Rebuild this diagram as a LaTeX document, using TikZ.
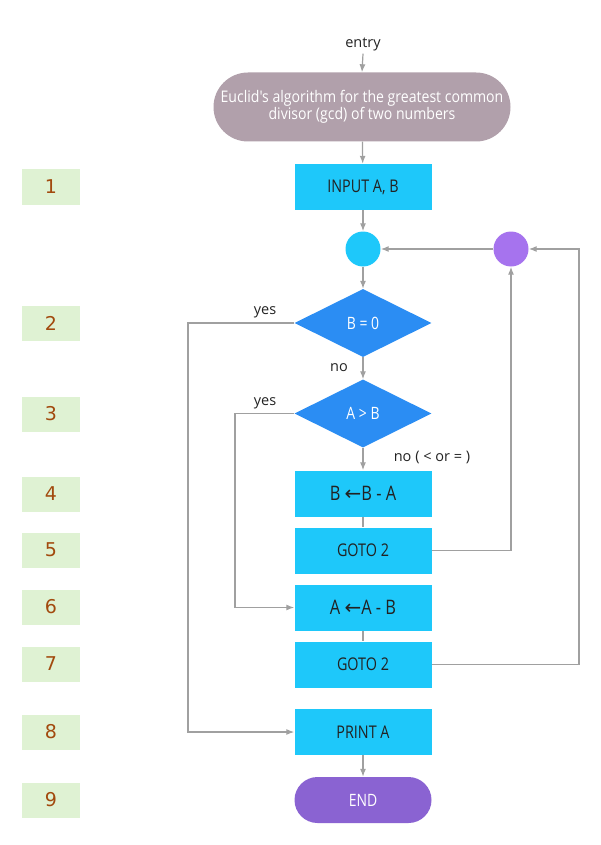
\documentclass[tikz,border=0pt]{standalone}
\usepackage{fontspec}
\setmainfont{Open Sans}
\newfontfamily\boxfont[FakeStretch=0.82]{Open Sans}
\newfontfamily\termfont[FakeStretch=0.88]{Open Sans}
\newfontfamily\numfont{DejaVu Sans}
\newfontfamily\symfont{DejaVu Sans}
\usetikzlibrary{shapes.geometric,arrows.meta}
\definecolor{termc}{HTML}{B1A0AB}
\definecolor{procc}{HTML}{1EC8FA}
\definecolor{decc}{HTML}{2B8DF3}
\definecolor{purpc}{HTML}{A673EE}
\definecolor{endc}{HTML}{8A63D2}
\definecolor{numbg}{HTML}{DFF2D3}
\definecolor{numfg}{HTML}{A24A0E}
\definecolor{linec}{HTML}{A0A0A0}
\definecolor{txtc}{HTML}{222222}
\tikzset{
  proc/.style={rectangle, fill=procc, draw=none, minimum width=137pt, minimum height=46pt, inner sep=0pt, text=txtc, font=\boxfont\fontsize{17.5}{19}\selectfont},
  asgn/.style={proc, font=\boxfont\fontsize{20}{22}\selectfont},
  dec/.style={diamond, fill=decc, draw=none, minimum width=137pt, minimum height=68pt, inner sep=0pt, text=white, font=\boxfont\fontsize{17}{19}\selectfont},
  termbox/.style={rectangle, rounded corners=#1, draw=none, inner sep=0pt},
  conn/.style={circle, draw=none, minimum size=35pt, inner sep=0pt},
  numbox/.style={rectangle, fill=numbg, draw=none, minimum width=58pt, minimum height=35pt, inner sep=0pt, text=numfg, font=\numfont\fontsize{19}{21}\selectfont},
  lbl/.style={text=txtc, inner sep=0pt, font=\fontsize{14.5}{16}\selectfont},
  arr/.style={draw=linec, line width=1.2pt, -{Latex[length=8pt,width=6pt]}},
  ln/.style={draw=linec, line width=1.2pt},
}
\begin{document}
\begin{tikzpicture}[x=1pt,y=-1pt]
\useasboundingbox (0,0) rectangle (601,845);
% numbered side boxes
\node[numbox] (n1) at (51,187) {1};
\node[numbox] (n2) at (51,323) {2};
\node[numbox] (n3) at (51,414) {3};
\node[numbox] (n4) at (51,494) {4};
\node[numbox] (n5) at (51,550) {5};
\node[numbox] (n6) at (51,607) {6};
\node[numbox] (n7) at (51,664) {7};
\node[numbox] (n8) at (51,732) {8};
\node[numbox] (n9) at (51,800) {9};
% flow
\node[lbl] (entry) at (363,44) {entry};
\node[termbox=34.5pt, fill=termc, minimum width=297pt, minimum height=69pt, text=white, align=center, font=\termfont\fontsize{16}{17.5}\selectfont] (term) at (362,107) {Euclid's algorithm for the greatest common\\divisor (gcd) of two numbers};
\node[proc] (input) at (363,187) {INPUT A, B};
\node[conn, fill=procc] (c1) at (363,249) {};
\node[conn, fill=purpc] (c2) at (511,249) {};
\node[dec] (d1) at (363,323) {B = 0};
\node[dec] (d2) at (363,413.5) {A > B};
\node[asgn] (bbox) at (363,493.5) {B {\symfont ←}B - A};
\node[proc] (goto1) at (363,550.5) {GOTO 2};
\node[asgn] (abox) at (363,607.5) {A {\symfont ←}A - B};
\node[proc] (goto2) at (363,664.5) {GOTO 2};
\node[proc] (print) at (363,732) {PRINT A};
\node[termbox=23pt, fill=endc, minimum width=137pt, minimum height=46pt, text=white, font=\boxfont\fontsize{17}{19}\selectfont] (end) at (363,800) {END};
% labels
\node[lbl] (y1) at (265,312) {yes};
\node[lbl] (y2) at (265,403) {yes};
\node[lbl] (no1) at (339,368) {no};
\node[lbl] (no2) at (432,457) {no ( < or = )};
% helper coordinates
\coordinate (l1) at (188,323);
\coordinate (l2) at (235,413.5);
\coordinate (r1) at (579,249);
% connectors
\draw[arr] (entry.south) ++(0,3) -- (term.north);
\draw[arr] (term) -- (input);
\draw[arr] (input) -- (c1);
\draw[arr] (c1) -- (d1);
\draw[arr] (d1) -- (d2);
\draw[arr] (d2) -- (bbox);
\draw[ln] (bbox) -- (goto1);
\draw[ln] (abox) -- (goto2);
\draw[arr] (print) -- (end);
\draw[arr] (c2) -- (c1);
\draw[arr] (d1.west) -- (l1) |- (print.west);
\draw[arr] (d2.west) -- (l2) |- (abox.west);
\draw[arr] (goto1.east) -| (c2.south);
\draw[arr] (goto2.east) -| (r1) -- (c2.east);
\end{tikzpicture}
\end{document}
